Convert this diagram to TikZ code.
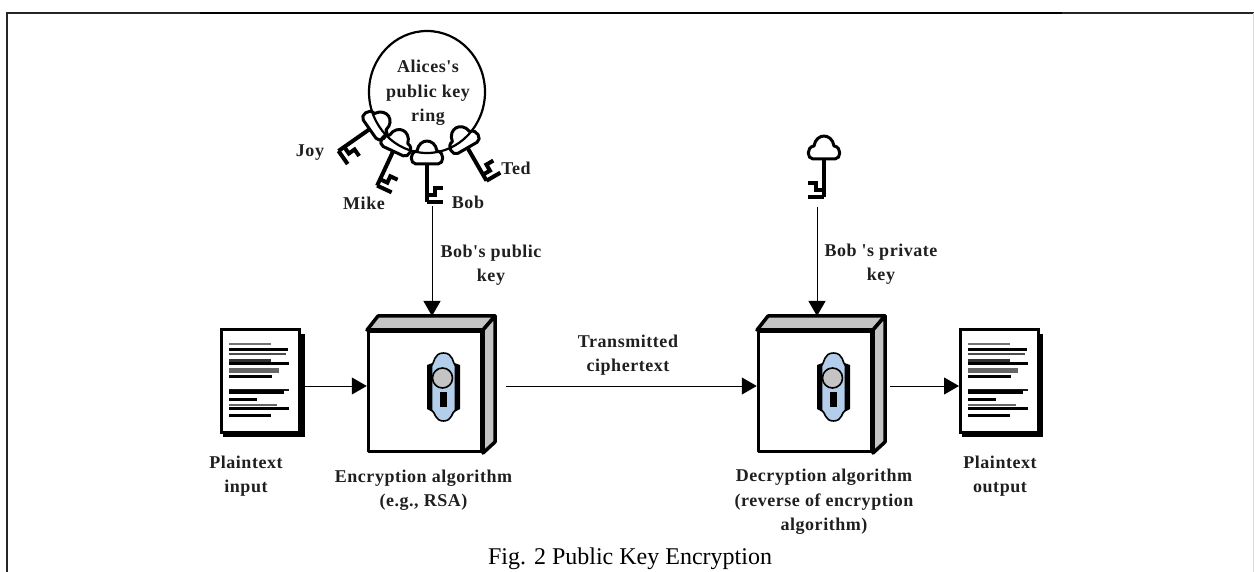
\documentclass[tikz,border=0pt]{standalone}
\usepackage{fontspec}
\setmainfont{Liberation Serif}
\newfontfamily\lblfont[LetterSpace=3]{Liberation Serif}
\usetikzlibrary{arrows.meta,shapes.geometric}
\definecolor{sidegray}{HTML}{C4C4C4}
\definecolor{plateblue}{HTML}{B2CEEA}
\tikzset{
  x=1pt,y=-1pt,
  lbl/.style={font=\lblfont\bfseries\fontsize{18}{24.5}\selectfont,text=black!88,inner sep=0pt,align=center},
  conn/.style={draw=black,line width=1pt,-{Triangle[length=15pt,width=17pt]}},
  boxfront/.style={draw=black,line width=3.5pt,fill=white,minimum width=113pt,minimum height=120pt,inner sep=0pt,line join=round},
  boxside/.style={draw=black,line width=3.5pt,fill=sidegray,line join=round},
  docframe/.style={draw=black,line width=3pt,fill=white,minimum width=78pt,minimum height=102pt,inner sep=0pt},
  keyline/.style={draw=black,line width=3pt,line join=round},
  keystem/.style={draw=black,line width=4pt,line join=miter},
  pics/keyhole/.style={code={
    \fill[black] (-11,-24) -- (11,-24) -- (16.5,-22) -- (16.5,22) -- (11,25) -- (-11,25) -- (-16.5,22) -- (-16.5,-22) -- cycle;
    \draw[black,line width=1.6pt,fill=plateblue] (-12,-21) .. controls (-9,-24) and (-10,-34) .. (0,-34) .. controls (10,-34) and (9,-24) .. (12,-21) -- (12,23) .. controls (8,25) and (9,34) .. (0,34) .. controls (-9,34) and (-8,25) .. (-12,23) -- cycle;
    \draw[black,line width=1.6pt,fill=sidegray] (-1,-9) circle[radius=10];
    \fill[black] (-4,5) rectangle (3,20);
  }},
  pics/keyplain/.style={code={
    \path[keyline] (-11,9) .. controls (-17,9) and (-18,-3) .. (-10,-4) .. controls (-9,-11) and (-4,-14) .. (0,-14) .. controls (4,-14) and (9,-11) .. (10,-4) .. controls (18,-3) and (17,9) .. (11,9) -- cycle;
    \path[keystem] (0,9) -- (0,47);
    \path[keystem] (#1*16,33) -- (#1*8,33) -- (#1*8,40) -- (0,40);
    \path[keystem] (0,47) -- (#1*16,47);
  }},
  pics/doclines/.style={code={
    \foreach \z/\e/\t/\c in {73/242/2.4/55,89/293/3.4/100,103/289/2.4/70,122/242/2.4/80,132/298/3.4/100,153/266/5/60,171/247/3.4/100,210/298/2.4/90,217/283/4.4/100,239/201/3.4/100,255/260/2.4/60,267/298/3.4/100,287/242/3.4/100}{
      \draw[black!\c,line width=\t pt] (10.3,\z/3-9.3) -- (\e/3-29,\z/3-9.3);
    }
  }},
}
\begin{document}
\begin{tikzpicture}
\useasboundingbox (0,0) rectangle (1254,572);
% outer frame
\coordinate (fa) at (7,572);
\coordinate (fb) at (7,13);
\coordinate (fc) at (200,13);
\coordinate (fd) at (1062,13);
\coordinate (fe) at (1254,13);
\coordinate (ff) at (1253,13);
\coordinate (fg) at (1253,572);
\draw[black!85,line width=2.4pt] (fa) -- (fb) -- (fc);
\draw[black,line width=1.2pt] (fc) -- (fd);
\draw[black!85,line width=2.4pt] (fd) -- (fe);
\draw[black!15,line width=.8pt] (ff) -- (fg);

% ring and keys
\node[ellipse,draw=black,line width=2.2pt,minimum width=116pt,minimum height=122pt,inner sep=0pt] (ring) at (427,92) {};
\node[lbl] (ringtext) at (428,93) {Alices's\\public key\\ring};
\pic at (377,124) [rotate=-55] {keyplain=1};
\pic at (397,143) [rotate=-25] {keyplain=1};
\pic at (427,155) {keyplain=1};
\pic at (463,140) [rotate=30] {keyplain=1};
\pic at (824,150) {keyplain=-1};
\node[lbl] (joy) at (310,153) {Joy};
\node[lbl] (mike) at (364,203) {Mike};
\node[lbl] (bob) at (468,202) {Bob};
\node[lbl] (ted) at (516,168) {Ted};

% documents
\fill[black] (223,334) rectangle (305,437);
\node[docframe] (doc1) at (260.5,381) {};
\pic at (219,329) {doclines};
\fill[black] (962,334) rectangle (1043,437);
\node[docframe] (doc2) at (999.5,381) {};
\pic at (958,329) {doclines};

% encryption box
\filldraw[boxside] (367,330) -- (378,316) -- (495,316) -- (483,330) -- cycle;
\filldraw[boxside] (483,330) -- (495,316) -- (495,442) -- (483,453) -- cycle;
\node[boxfront] (enc) at (425,391.5) {};
\pic at (443.5,387) {keyhole};
% decryption box
\filldraw[boxside] (757,330) -- (768,316) -- (885,316) -- (873,330) -- cycle;
\filldraw[boxside] (873,330) -- (885,316) -- (885,442) -- (873,453) -- cycle;
\node[boxfront] (dec) at (815,391.5) {};
\pic at (833.5,387) {keyhole};

% connectors
\coordinate (row) at (0,386);
\coordinate (bobend) at (432,206);
\coordinate (enctop) at (432,316);
\coordinate (privend) at (817,207);
\coordinate (dectop) at (817,316);
\coordinate (encout) at (506,386);
\coordinate (decout) at (890,386);
\draw[conn] (bobend) -- (enctop);
\draw[conn] (privend) -- (dectop);
\draw[conn] (doc1.east |- row) -- (enc.west |- row);
\draw[conn] (encout) -- (dec.west |- row);
\draw[conn] (decout) -- (doc2.west |- row);

% labels
\node[lbl] (l2) at (628,355) {Transmitted\\ciphertext};
\node[lbl] (l3) at (246,476) {Plaintext\\input};
\node[lbl] (l4) at (423.5,490) {Encryption algorithm\\(e.g., RSA)};
\node[lbl] (l5) at (824,502) {Decryption algorithm\\(reverse of encryption\\algorithm)};
\node[lbl] (l6) at (1000,476) {Plaintext\\output};
\node[lbl] (l7) at (491,265) {Bob's public\\key};
\node[lbl] (l8) at (881,264) {Bob 's private\\key};
\node[inner sep=0pt,font=\fontsize{24}{28}\selectfont] (cap) at (630,559) {Fig. 2 Public Key Encryption};
\end{tikzpicture}
\end{document}
